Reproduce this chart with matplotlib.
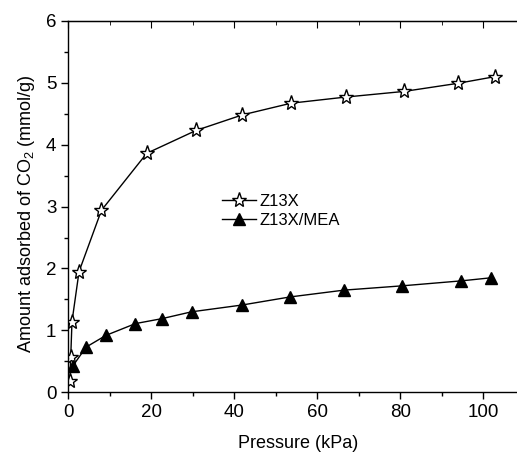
import matplotlib
matplotlib.use("Agg")
import matplotlib.pyplot as plt
from matplotlib.ticker import MultipleLocator

plt.rcParams['font.family'] = ['Liberation Sans', 'DejaVu Sans']
plt.rcParams['mathtext.fontset'] = 'custom'
plt.rcParams['mathtext.rm'] = 'Liberation Sans'

z13x_p = [0.4, 0.6, 0.9, 2.6, 8.0, 18.9, 30.8, 41.9, 53.7, 67.0, 80.9, 93.8, 102.9]
z13x_q = [0.19, 0.57, 1.14, 1.95, 2.94, 3.86, 4.23, 4.48, 4.67, 4.77, 4.86, 4.99, 5.10]

mea_p = [1.05, 4.3, 9.1, 16.2, 22.6, 29.7, 41.9, 53.4, 66.4, 80.5, 94.7, 101.9]
mea_q = [0.42, 0.73, 0.92, 1.11, 1.19, 1.30, 1.41, 1.54, 1.65, 1.72, 1.80, 1.85]

labels = ['Z13X', 'Z13X/MEA']

fig = plt.figure(figsize=(5.17, 4.53), dpi=100)
ax = fig.add_axes([0.132, 0.134, 0.868, 0.820])

ax.plot(z13x_p, z13x_q, color='black', lw=1.0, marker='*', markersize=11,
        markerfacecolor='white', markeredgecolor='black', markeredgewidth=1.0, label=labels[0])
ax.plot(mea_p, mea_q, color='black', lw=1.0, marker='^', markersize=8,
        markerfacecolor='black', markeredgecolor='black', label=labels[1])

ax.set_xlim(0, 108.1)
ax.set_ylim(0, 6)
ax.xaxis.set_major_locator(MultipleLocator(20))
ax.xaxis.set_minor_locator(MultipleLocator(10))
ax.yaxis.set_major_locator(MultipleLocator(1))
ax.yaxis.set_minor_locator(MultipleLocator(0.5))

ax.tick_params(axis='both', which='both', direction='out', labelsize=13.5, width=1.0)
ax.tick_params(which='major', length=5)
ax.tick_params(which='minor', length=3)
ax.spines['right'].set_visible(False)
for s in ['left', 'bottom', 'top']:
    ax.spines[s].set_linewidth(1.0)

# top ticks inward
secx = ax.secondary_xaxis('top')
secx.xaxis.set_major_locator(MultipleLocator(20))
secx.xaxis.set_minor_locator(MultipleLocator(10))
secx.tick_params(which='both', direction='in', labeltop=False)
secx.tick_params(which='major', length=5)
secx.tick_params(which='minor', length=3)
ax.tick_params(axis='x', which='both', top=False)

ax.set_xlabel('Pressure (kPa)', fontsize=13)
ax.set_ylabel('Amount adsorbed of CO$_2$ (mmol/g)', fontsize=13)
ax.xaxis.set_label_coords(0.513, -0.116)
ax.yaxis.set_label_coords(-0.07, 0.48)

ax.legend(loc='upper left', bbox_to_anchor=(0.31, 0.575), frameon=False, fontsize=12,
          handlelength=2.0, handletextpad=0.2, labelspacing=0.25)

fig.savefig('out.png', dpi=100)
